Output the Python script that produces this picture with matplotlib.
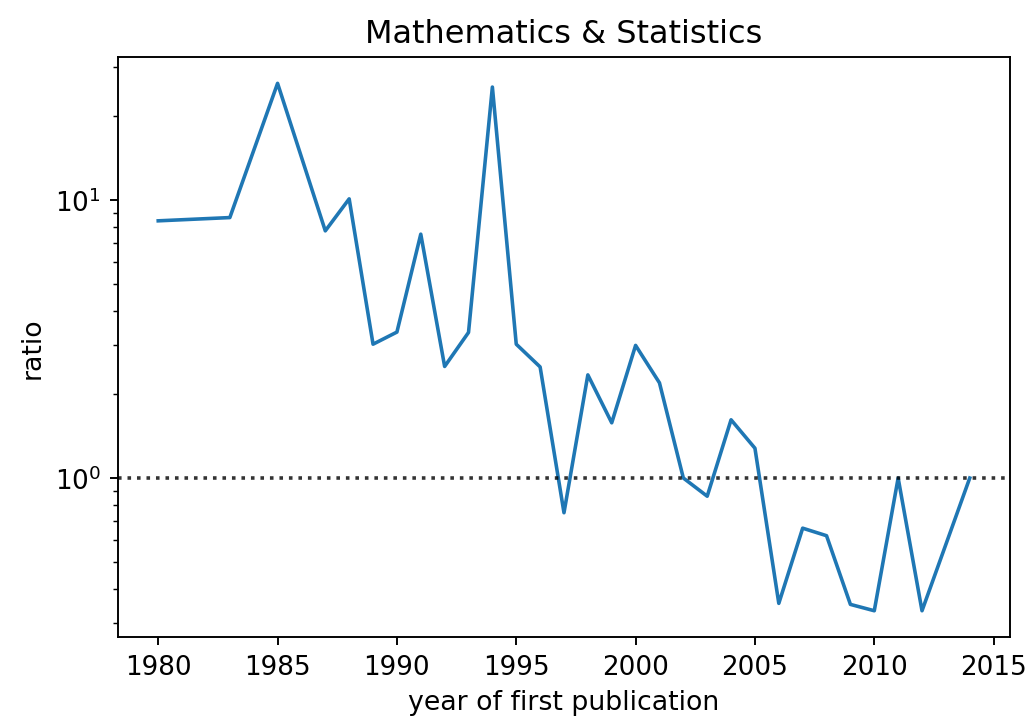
import numpy as np
import matplotlib
matplotlib.use("Agg")
import matplotlib.pyplot as plt

# ratio par année de première publication
years = [1980, 1983, 1985, 1987, 1988, 1989, 1990, 1991, 1992, 1993, 1994,
         1995, 1996, 1997, 1998, 1999, 2000, 2001, 2002, 2003, 2004, 2005,
         2006, 2007, 2008, 2009, 2010, 2011, 2012, 2014]
ratio = [8.42, 8.65, 26.3, 7.75, 10.1, 3.03, 3.35, 7.54, 2.52, 3.34, 25.5,
         3.03, 2.51, 0.75, 2.35, 1.58, 3.0, 2.2, 1.0, 0.86, 1.62, 1.28,
         0.354, 0.66, 0.62, 0.351, 0.333, 1.0, 0.333, 1.0]

plt.rcParams["xtick.labelsize"] = 11
plt.rcParams["ytick.labelsize"] = 11

fig = plt.figure(figsize=(6, 4.19), dpi=172)
plt.subplots_adjust(left=0.114, right=0.979, top=0.92, bottom=0.115)
plt.plot(years, ratio)
plt.axhline(1, color="k", linestyle=":", alpha=0.8)
plt.yscale("log")
plt.xlabel("year of first publication", fontsize=11.2)
plt.ylabel("ratio", fontsize=11.2)
plt.title("Mathematics & Statistics", fontsize=13.4)
plt.savefig("out.png")
